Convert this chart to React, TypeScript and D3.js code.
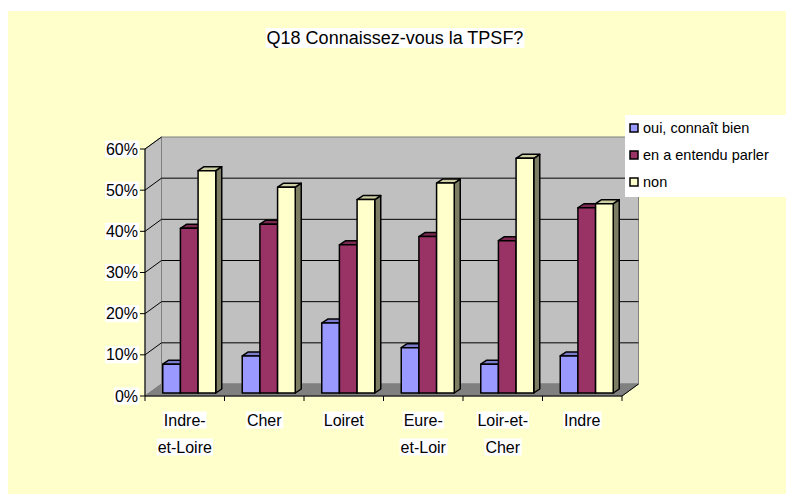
import React, { useRef, useEffect } from 'react';
import * as d3 from 'd3';

const categories = [['Indre-', 'et-Loire'], ['Cher'], ['Loiret'], ['Eure-', 'et-Loir'], ['Loir-et-', 'Cher'], ['Indre']];
const seriesNames = ['oui, connaît bien', 'en a entendu parler', 'non'];
const ouiValues = [7, 9, 17, 11, 7, 9];
const entenduValues = [40, 41, 36, 38, 37, 45];
const nonValues = [54, 50, 47, 51, 57, 46];
const yTicks = [0, 10, 20, 30, 40, 50, 60];
const colors = ['#9999FF', '#993366', '#FFFFCC'];

const App = () => {
    const ref = useRef<SVGSVGElement>(null);

    useEffect(() => {
        const width = 786;
        const height = 494;
        const left = 145, right = 622, bottom = 396, top = 149;
        const wallDx = 16.5, wallDy = -12;
        const barShiftX = 4.5, barShiftY = -3;
        const barDx = 6, barDy = -4;
        const font = 'Arial, "Liberation Sans", sans-serif';

        const svg = d3.select(ref.current)
            .attr('width', width)
            .attr('height', height);
        svg.selectAll('*').remove();

        const x = d3.scaleBand<number>()
            .domain(d3.range(categories.length))
            .range([left, right]);
        const xs = d3.scaleBand<number>()
            .domain(d3.range(seriesNames.length))
            .range([0, x.bandwidth()])
            .paddingInner(0)
            .paddingOuter(0.75);
        const y = d3.scaleLinear().domain([0, 60]).range([bottom, top]);

        // background
        svg.append('rect')
            .attr('x', 8).attr('y', 11)
            .attr('width', width - 8).attr('height', height - 11)
            .attr('fill', '#FFFFCC');

        const g = svg.append('g');
        const pts = (arr: number[][]) => arr.map(p => p.join(',')).join(' ');

        // left wall
        g.append('polygon')
            .attr('points', pts([[left, y(60)], [left + wallDx, y(60) + wallDy], [left + wallDx, y(0) + wallDy], [left, y(0)]]))
            .attr('fill', '#C0C0C0').attr('stroke', '#808080');
        // back wall
        g.append('polygon')
            .attr('points', pts([[left + wallDx, y(60) + wallDy], [right + wallDx, y(60) + wallDy], [right + wallDx, y(0) + wallDy], [left + wallDx, y(0) + wallDy]]))
            .attr('fill', '#C0C0C0').attr('stroke', '#808080');
        // floor
        g.append('polygon')
            .attr('points', pts([[left, y(0)], [right, y(0)], [right + wallDx, y(0) + wallDy], [left + wallDx, y(0) + wallDy]]))
            .attr('fill', '#808080').attr('stroke', '#808080');

        // gridlines
        yTicks.filter(t => t > 0 && t < 60).forEach(t => {
            g.append('polyline')
                .attr('points', pts([[left, y(t)], [left + wallDx, y(t) + wallDy], [right + wallDx, y(t) + wallDy]]))
                .attr('fill', 'none').attr('stroke', '#000').attr('stroke-width', 1);
        });
        g.append('line')
            .attr('x1', left).attr('y1', y(60)).attr('x2', left + wallDx).attr('y2', y(60) + wallDy)
            .attr('stroke', '#000');

        // bars
        const data = [ouiValues, entenduValues, nonValues];
        const bw = xs.bandwidth();
        categories.forEach((_, i) => {
            data.forEach((vals, s) => {
                const c = d3.color(colors[s])!;
                const x0 = (x(i) as number) + (xs(s) as number) + barShiftX;
                const x1 = x0 + bw;
                const y0 = y(0) + barShiftY;
                const y1 = y(vals[i]) + barShiftY;
                const bar = g.append('g')
                    .attr('stroke', '#000').attr('stroke-width', 1.5).attr('stroke-linejoin', 'round');
                bar.append('polygon')
                    .attr('points', pts([[x1, y1], [x1 + barDx, y1 + barDy], [x1 + barDx, y0 + barDy], [x1, y0]]))
                    .attr('fill', c.darker(2).toString());
                bar.append('polygon')
                    .attr('points', pts([[x0, y1], [x0 + barDx, y1 + barDy], [x1 + barDx, y1 + barDy], [x1, y1]]))
                    .attr('fill', c.darker(0.6).toString());
                bar.append('rect')
                    .attr('x', x0).attr('y', y1)
                    .attr('width', bw).attr('height', y0 - y1)
                    .attr('fill', colors[s]);
            });
        });

        // axes
        g.append('line')
            .attr('x1', left).attr('y1', y(0)).attr('x2', right).attr('y2', y(0))
            .attr('stroke', '#000');
        g.append('line')
            .attr('x1', right).attr('y1', y(0)).attr('x2', right + wallDx).attr('y2', y(0) + wallDy)
            .attr('stroke', '#000');
        g.append('line')
            .attr('x1', left).attr('y1', y(0)).attr('x2', left).attr('y2', y(60))
            .attr('stroke', '#000');
        d3.range(categories.length + 1).forEach(i => {
            const tx = left + x.step() * i;
            g.append('line')
                .attr('x1', tx).attr('x2', tx).attr('y1', y(0)).attr('y2', y(0) + 5)
                .attr('stroke', '#000');
        });

        const labelWithBg = (parent: any, tx: number, ty: number, text: string, anchor: string, size: number) => {
            const lg = parent.append('g');
            const bg = lg.append('rect').attr('fill', '#fff');
            const t = lg.append('text')
                .attr('x', tx).attr('y', ty)
                .attr('text-anchor', anchor)
                .attr('dominant-baseline', 'central')
                .attr('font-family', font)
                .attr('font-size', size)
                .attr('fill', '#000')
                .text(text);
            const b = (t.node() as SVGTextElement).getBBox();
            bg.attr('x', b.x - 1).attr('y', b.y).attr('width', b.width + 2).attr('height', b.height);
        };

        yTicks.forEach(t => {
            g.append('line')
                .attr('x1', left - 5).attr('x2', left).attr('y1', y(t)).attr('y2', y(t))
                .attr('stroke', '#000');
            labelWithBg(g, left - 7, y(t), `${t}%`, 'end', 16);
        });

        categories.forEach((lines, i) => {
            const cx = (x(i) as number) + x.bandwidth() / 2;
            lines.forEach((line, k) => {
                labelWithBg(g, cx, 420 + k * 27, line, 'middle', 16);
            });
        });

        // title
        labelWithBg(svg, 395, 38, 'Q18 Connaissez-vous la TPSF?', 'middle', 18);

        // legend
        const leg = svg.append('g');
        leg.append('rect')
            .attr('x', 625).attr('y', 115).attr('width', 161).attr('height', 82)
            .attr('fill', '#fff');
        seriesNames.forEach((name, s) => {
            const ly = 128 + s * 27;
            leg.append('rect')
                .attr('x', 630).attr('y', ly - 4).attr('width', 8).attr('height', 8)
                .attr('fill', colors[s]).attr('stroke', '#000').attr('stroke-width', 1.5);
            leg.append('text')
                .attr('x', 643).attr('y', ly)
                .attr('dominant-baseline', 'central')
                .attr('font-family', font)
                .attr('font-size', 14.5)
                .text(name);
        });
    }, []);

    return (
        <svg ref={ref} style={{ position: 'absolute', left: 0, top: 0 }}></svg>
    );
};

export default App;
